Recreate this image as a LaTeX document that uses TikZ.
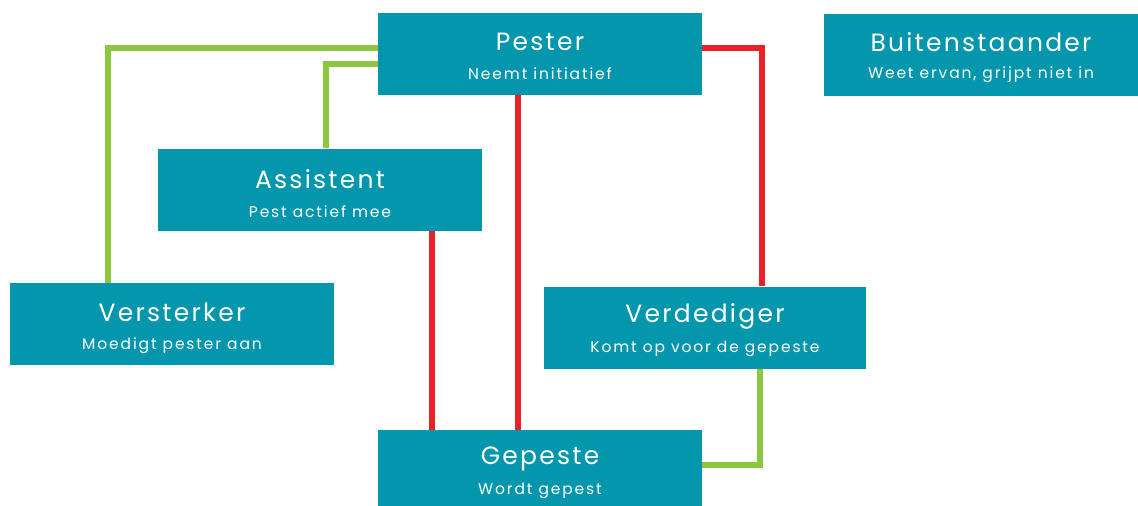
\documentclass[tikz,border=0pt]{standalone}
\usepackage{fontspec}
\setmainfont{Poppins}
\newfontfamily\ttlfont[LetterSpace=9]{Poppins}
\newfontfamily\sbtfont[LetterSpace=12]{Poppins}
\usetikzlibrary{calc}
\definecolor{boxteal}{RGB}{3,150,172}
\definecolor{linered}{RGB}{232,32,40}
\definecolor{linegreen}{RGB}{141,198,63}
\begin{document}
\begin{tikzpicture}[x=1pt,y=-1pt,
  box/.style={fill=boxteal, draw=none, minimum width=324pt, minimum height=82pt, inner sep=0pt},
  ttl/.style={text=white, inner sep=0pt, font=\ttlfont\fontsize{25}{28}\selectfont},
  sbt/.style={text=white, inner sep=0pt, font=\sbtfont\fontsize{15.5}{18}\selectfont},
  gline/.style={draw=linegreen, line width=6pt},
  rline/.style={draw=linered, line width=6pt}]
\useasboundingbox (0,0) rectangle (1138,506);
% boxes
\node[box] (pester) at (540,54) {};
\node[box, minimum width=314pt] (buiten) at (981,54.5) {};
\node[box] (assist) at (320,189.5) {};
\node[box] (verst) at (172,324) {};
\node[box, minimum width=322pt] (verded) at (705,327.5) {};
\node[box] (gepeste) at (540,471) {};
% connectors
\draw[gline] (pester.west |- 0,48) -| (108,0 |- verst.north);
\draw[gline] (pester.west |- 0,64) -| (326,0 |- assist.north);
\draw[rline] (pester.east |- 0,48) -| (762,0 |- verded.north);
\draw[rline] (518,0 |- pester.south) -- (518,0 |- gepeste.north);
\draw[rline] (432,0 |- assist.south) -- (432,0 |- gepeste.north);
\draw[gline] (760,0 |- verded.south) |- (gepeste.east |- 0,465);
% texts
\node[ttl] (pesterT) at ($(pester.center)+(0,-12)$) {Pester};
\node[sbt] (pesterS) at ($(pester.center)+(0,20)$) {Neemt initiatief};
\node[ttl] (buitenT) at ($(buiten.center)+(0,-12)$) {Buitenstaander};
\node[sbt] (buitenS) at ($(buiten.center)+(0,20)$) {Weet ervan, grijpt niet in};
\node[ttl] (assistT) at ($(assist.center)+(0,-10)$) {Assistent};
\node[sbt] (assistS) at ($(assist.center)+(0,22)$) {Pest actief mee};
\node[ttl] (verstT) at ($(verst.center)+(0,-12)$) {Versterker};
\node[sbt] (verstS) at ($(verst.center)+(0,22)$) {Moedigt pester aan};
\node[ttl] (verdedT) at ($(verded.center)+(0,-11)$) {Verdediger};
\node[sbt] (verdedS) at ($(verded.center)+(0,21)$) {Komt op voor de gepeste};
\node[ttl] (gepesteT) at ($(gepeste.center)+(0,-12)$) {Gepeste};
\node[sbt] (gepesteS) at ($(gepeste.center)+(0,20)$) {Wordt gepest};
\end{tikzpicture}
\end{document}
